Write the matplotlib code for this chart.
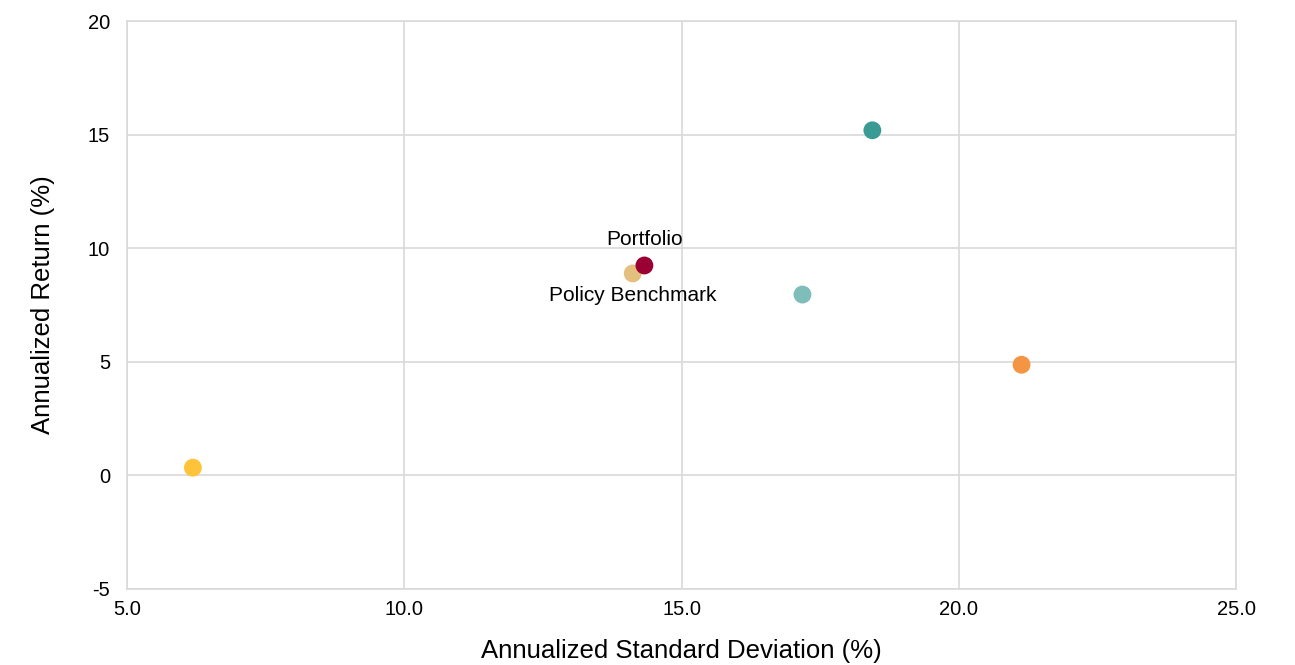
import matplotlib.pyplot as plt

plt.rcParams['font.family'] = ['Liberation Sans', 'DejaVu Sans']
plt.rcParams['axes.unicode_minus'] = False

names = ["Cash", "Policy Benchmark", "Portfolio", "Asset A", "Asset B", "Asset C"]
std_dev = [6.19, 14.12, 14.33, 17.18, 18.44, 21.13]
returns = [0.34, 8.89, 9.24, 7.96, 15.19, 4.87]
colors = ["#FFC33A", "#E3C07E", "#9B0034", "#7FBDBA", "#3A9A94", "#F39542"]

fig = plt.figure(figsize=(12.95, 6.65), dpi=100)
ax = fig.add_axes([0.098, 0.1143, 0.8566, 0.8541])

ax.scatter(std_dev, returns, s=165, c=colors, zorder=3, linewidths=0)

# labels only for portfolio and benchmark
ax.annotate("Portfolio", (std_dev[2], returns[2]), xytext=(0, 12),
            textcoords="offset points", ha="center", va="bottom", fontsize=15)
ax.annotate("Policy Benchmark", (std_dev[1], returns[1]), xytext=(0, -9),
            textcoords="offset points", ha="center", va="top", fontsize=15)

ax.set_xlim(5, 25)
ax.set_ylim(-5, 20)
ax.set_xticks([5, 10, 15, 20, 25])
ax.set_xticklabels(["5.0", "10.0", "15.0", "20.0", "25.0"])
ax.set_yticks([-5, 0, 5, 10, 15, 20])
ax.grid(True, color="#D9D9D9", linewidth=1.2)
ax.set_axisbelow(True)
for s in ax.spines.values():
    s.set_color("#D9D9D9")
    s.set_linewidth(1.2)
ax.tick_params(length=0, labelsize=14.5)
ax.tick_params(axis="y", pad=12)
ax.tick_params(axis="x", pad=8)
ax.set_xlabel("Annualized Standard Deviation (%)", fontsize=18.5, labelpad=14)
ax.set_ylabel("Annualized Return (%)", fontsize=18.5, labelpad=24)

fig.savefig("out.png", dpi=100)
